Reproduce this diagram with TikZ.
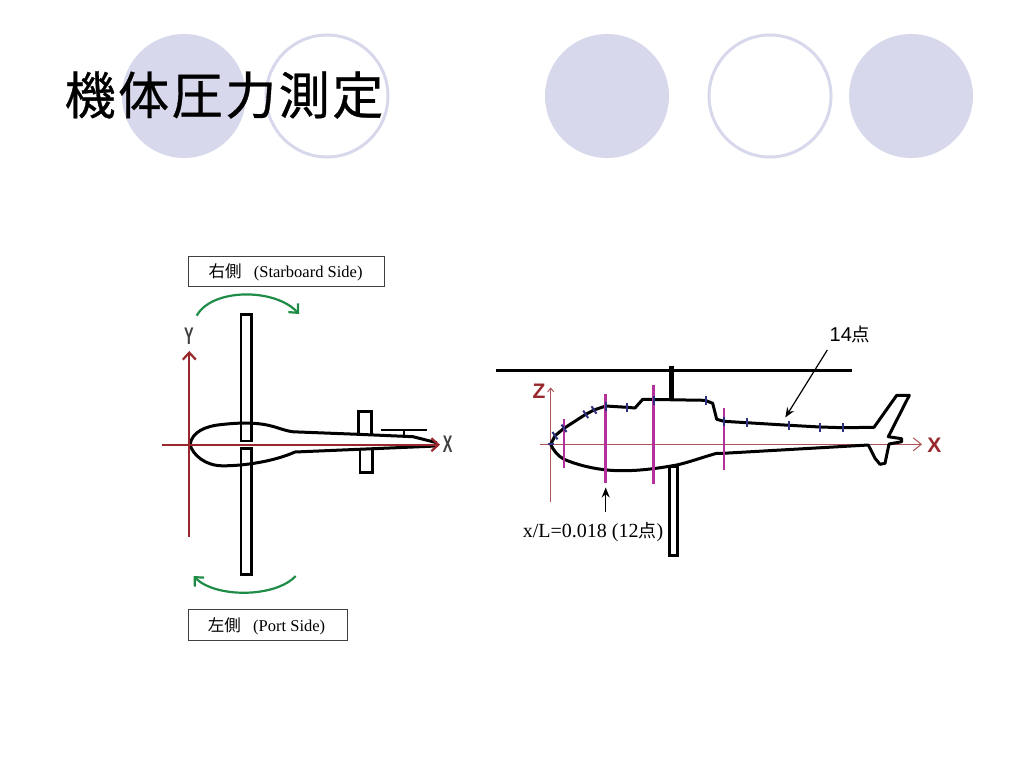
\documentclass[tikz,border=0pt]{standalone}
\usepackage{fontspec}
\setmainfont{Liberation Serif}
\newfontfamily\cjk{Noto Sans CJK JP}
\newfontfamily\cjktitle[FakeBold=.6,LetterSpace=5]{Noto Sans CJK JP}
\newfontfamily\labelsans{Liberation Sans}
\usetikzlibrary{arrows.meta}

\begin{document}
\begin{tikzpicture}[
  x=1pt,y=-1pt,
  font=\fontsize{16.5}{18}\selectfont,
  every node/.style={align=center,inner sep=0pt},
  disc/.style={circle,fill=lavender,minimum size=124pt},
  ring/.style={circle,draw=lavender,line width=3pt,fill=white,minimum size=122pt},
  sidebox/.style={draw=boxgray,line width=1pt,fill=white,anchor=north west},
  blade/.style={draw=black,line width=2.6pt,fill=white},
  hull/.style={draw=black,line width=3pt,line join=round},
  axis/.style={draw=axisred,line width=2.2pt,-{Straight Barb[length=7pt,width=13pt]}},
  thinaxis/.style={draw=axisred!80,line width=1pt},
  spin/.style={draw=spingreen,line width=2.2pt,-{Straight Barb[length=7pt,width=13pt]}},
  station/.style={draw=stationpink,line width=2.6pt},
  taplabel/.style={draw=tapblue,line width=2pt},
  axisname/.style={font=\labelsans\bfseries\fontsize{24}{24}\selectfont,xscale=.6,text=black!75},
  note/.style={-{Stealth[length=10pt,width=8pt]},line width=1.2pt}]
  \definecolor{lavender}{HTML}{D8D8EC}
  \definecolor{boxgray}{HTML}{404040}
  \definecolor{axisred}{HTML}{98282C}
  \definecolor{spingreen}{HTML}{1E8C46}
  \definecolor{stationpink}{HTML}{B4309C}
  \definecolor{tapblue}{HTML}{303080}

  \useasboundingbox (0,0) rectangle (1024,768);

  % Background circles
  \node[disc] (disc1) at (184,96) {};
  \node[ring] (ring1) at (327,96) {};
  \node[disc] (disc2) at (607,96) {};
  \node[ring] (ring2) at (770,96) {};
  \node[disc] (disc3) at (911,96) {};
  \node (title) at (224,95) {\cjktitle\fontsize{51}{60}\selectfont 機体圧力測定};

  % Top view
  \draw[blade] (241,314.5) rectangle (251.5,441);
  \draw[blade] (241,448.5) rectangle (251.5,574.5);
  \draw[blade] (358.7,411.5) rectangle (371.3,435);
  \draw[blade] (360,449) rectangle (372.3,472.3);
  \draw[hull] (190,444.7) .. controls (192,432) and (205,426) .. (222,424.5)
    .. controls (240,422.5) and (255,422.5) .. (267,425)
    .. controls (277,427) and (285,431) .. (293.5,431.8)
    -- (358,434.3) -- (413,436.7) -- (436.7,442.7);
  \draw[hull] (190,444.7) .. controls (193,455) and (205,465.5) .. (222,465.8)
    .. controls (245,466) and (275,461) .. (295,452) -- (436.7,446);
  \draw[line width=2.8pt] (381,430) -- (426.7,430);
  \draw[line width=1.6pt] (403.7,430) -- (403.7,437);

  \coordinate (yfoot) at (189.3,537);
  \coordinate (ytip) at (189.3,351);
  \coordinate (xfoot) at (162.3,444.7);
  \coordinate (xtip) at (440,444.7);
  \draw[axis] (yfoot) -- (ytip);
  \draw[axis] (xfoot) -- (xtip);
  \node[axisname] (ylabel) at (189,336.5) {Y};
  \node[axisname] (xlabel) at (447.7,444.5) {X};

  \coordinate (spin1a) at (196.7,315.7);
  \coordinate (spin1b) at (299,314);
  \coordinate (spin2a) at (295.7,576);
  \coordinate (spin2b) at (193.5,576);
  \draw[spin] (spin1a) .. controls (212,288) and (275,288) .. (spin1b);
  \draw[spin] (spin2a) .. controls (275,598) and (215,598) .. (spin2b);

  \node[sidebox,minimum width=196pt,minimum height=30.5pt] (starboard) at (188.3,255.7) {};
  \node (starboardtext) at (285.5,272.5) {{\cjk\fontsize{16.5}{18}\selectfont 右側}\hspace{.75em}(Starboard Side)};
  \node[sidebox,minimum width=158.5pt,minimum height=30.5pt] (port) at (188.3,609.4) {};
  \node (porttext) at (266.5,626.5) {{\cjk\fontsize{16.5}{18}\selectfont 左側}\hspace{.75em}(Port Side)};

  % Side view
  \draw[line width=3pt] (496,370.3) -- (851.7,370.3);
  \draw[line width=5.5pt] (671.7,365.7) -- (671.7,400);
  \draw[blade] (669.3,466.7) rectangle (677.3,555.2);

  \coordinate (zfoot) at (550.7,501.7);
  \coordinate (ztip) at (550.7,387.5);
  \coordinate (sxfoot) at (540,444.3);
  \coordinate (sxtip) at (922,444.3);
  \draw[thinaxis,-{Straight Barb[length=3.5pt,width=6pt]}] (zfoot) -- (ztip);
  \draw[thinaxis,-{Straight Barb[length=8pt,width=13pt]}] (sxfoot) -- (sxtip);
  \node[font=\labelsans\bfseries\fontsize{21}{21}\selectfont,text=axisred] (zlabel) at (539,391.5) {Z};
  \node[font=\labelsans\bfseries\fontsize{21}{21}\selectfont,text=axisred] (sxlabel) at (934.3,445) {X};

  \draw[hull] (550.7,444.3) -- (555,435.7) -- (564,428.3) -- (585.7,414.3) -- (594,410)
    -- (605.7,406) -- (626.7,407.3) -- (635,408) -- (642.7,399.3) -- (705,400.3)
    -- (712.7,403.3) -- (716.7,419.3) -- (724,421.3) -- (746.7,422.7) -- (789.3,425.3)
    -- (820,427) -- (843.3,427.7) -- (874,427.3) -- (896.7,395.3) -- (909.3,395.3)
    -- (888.3,436.7) -- (901.7,438.7) -- (901.7,441.7) -- (889,444) -- (885,463.3)
    -- (880,464.3) -- (875,458.3) -- (868.3,445) -- (723.3,453.3) -- (716.7,453.3)
    .. controls (700,458) and (690,462) .. (676.7,465)
    .. controls (660,468) and (640,471) .. (620,470.7)
    .. controls (600,470.5) and (580,466) .. (564,459.3)
    .. controls (558,456) and (553,450) .. (550.7,444.3);

  % Stations and pressure taps
  \foreach \sx/\stop/\sbot in {564/419/467.7,605.7/394.3/483.3,653.7/385.3/483.7,724/407.7/470}
    \draw[station] (\sx,\stop) -- (\sx,\sbot);
  \foreach \tx/\ty in {605.7/406,626.7/407.3,653.7/400,705.5/400.3,724/421.3,746.7/422.7,789.3/425.3,820/427,843.3/427.7}
    \draw[taplabel] (\tx,\ty-4.5) -- (\tx,\ty+4.5);
  \foreach \tx/\ty in {555/435.7,564/428.3,585.7/414.3,594/410}
    \draw[taplabel] (\tx-2.5,\ty-3.7) -- (\tx+2.5,\ty+3.7);
  \draw[taplabel] (547.5,444.3) -- (553.5,444.3);

  % Annotations
  \node (tapcount) at (850,334) {{\labelsans\fontsize{20}{20}\selectfont 14}{\cjk\fontsize{18.5}{20}\selectfont 点}};
  \node (stationtext) at (593,532) {\fontsize{20}{20}\selectfont x/L=0.018 (12{\cjk\fontsize{18}{20}\selectfont 点})};
  \coordinate (tapfoot) at (827.3,350);
  \coordinate (taptip) at (785.3,417.5);
  \coordinate (stationfoot) at (605.7,512);
  \coordinate (stationtip) at (605.7,487.5);
  \draw[note] (tapfoot) -- (taptip);
  \draw[note] (stationfoot) -- (stationtip);
\end{tikzpicture}
\end{document}
